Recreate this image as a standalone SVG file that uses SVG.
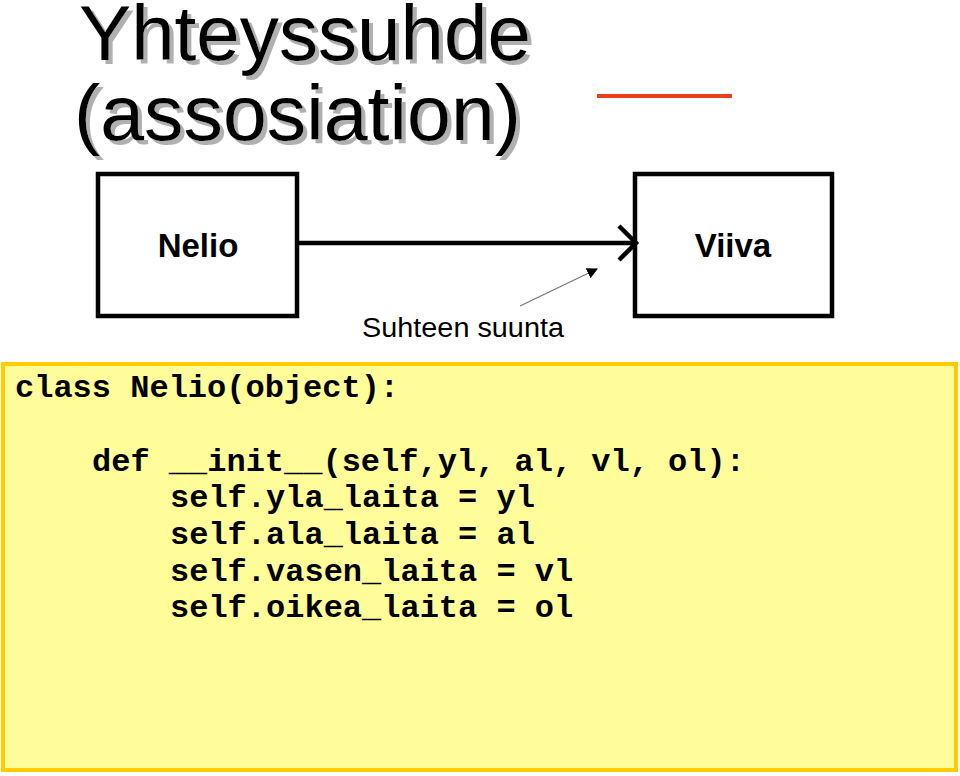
<svg xmlns="http://www.w3.org/2000/svg" width="960" height="776" viewBox="0 0 960 776">
<defs>
<style>
.title{font-family:"Liberation Sans",Arial,sans-serif;font-size:77px;fill:#000;}
.node{fill:#fff;stroke:#000;stroke-width:4.5;}
.lbl{font-family:"Liberation Sans",Arial,sans-serif;font-size:33px;font-weight:bold;text-anchor:middle;}
.code{font-family:"Liberation Mono","Courier New",monospace;font-size:32px;font-weight:bold;fill:#000;}
</style>
<filter id="shadow" x="-5%" y="-5%" width="115%" height="130%">
<feOffset in="SourceAlpha" dx="4" dy="4" result="off"/>
<feFlood flood-color="#b0b0b0"/>
<feComposite in2="off" operator="in" result="sh"/>
<feMerge><feMergeNode in="sh"/><feMergeNode in="SourceGraphic"/></feMerge>
</filter>
<marker id="tri" viewBox="0 0 10 10" refX="9" refY="5" markerWidth="11" markerHeight="11" markerUnits="userSpaceOnUse" orient="auto">
<path d="M0,0 L10,5 L0,10 z" fill="#000"/>
</marker>
</defs>
<rect width="960" height="776" fill="#fff"/>
<g id="title" filter="url(#shadow)">
<text class="title" x="79" y="60" textLength="452" lengthAdjust="spacingAndGlyphs">Yhteyssuhde</text>
<text class="title" x="74" y="140" textLength="447" lengthAdjust="spacingAndGlyphs">(assosiation)</text>
</g>
<line x1="597" y1="96" x2="732" y2="96" stroke="#E8401C" stroke-width="4"/>
<g id="Nelio">
<rect class="node" x="98" y="174" width="199" height="142"/>
<text class="lbl" x="198" y="257">Nelio</text>
</g>
<g id="Viiva">
<rect class="node" x="635" y="174" width="197" height="142"/>
<text class="lbl" x="733" y="257">Viiva</text>
</g>
<g id="connectors">
<line x1="297" y1="243" x2="634" y2="243" stroke="#000" stroke-width="4.5"/>
<polyline points="619,226 636,243 619,260" fill="none" stroke="#000" stroke-width="4.5"/>
<line x1="520" y1="306" x2="597" y2="269" stroke="#777" stroke-width="1.2" marker-end="url(#tri)"/>
</g>
<text x="362" y="337" font-family="'Liberation Sans',Arial,sans-serif" font-size="27" fill="#000" textLength="202" lengthAdjust="spacingAndGlyphs">Suhteen suunta</text>
<g id="code">
<rect x="3" y="364" width="953" height="406" fill="#FFFD99" stroke="#FFCC00" stroke-width="4"/>
<text class="code" x="15" y="397">class Nelio(object):</text>
<text class="code" x="92" y="471">def __init__(self,yl, al, vl, ol):</text>
<text class="code" x="170" y="507">self.yla_laita = yl</text>
<text class="code" x="170" y="544">self.ala_laita = al</text>
<text class="code" x="170" y="581">self.vasen_laita = vl</text>
<text class="code" x="170" y="617">self.oikea_laita = ol</text>
</g>
</svg>
